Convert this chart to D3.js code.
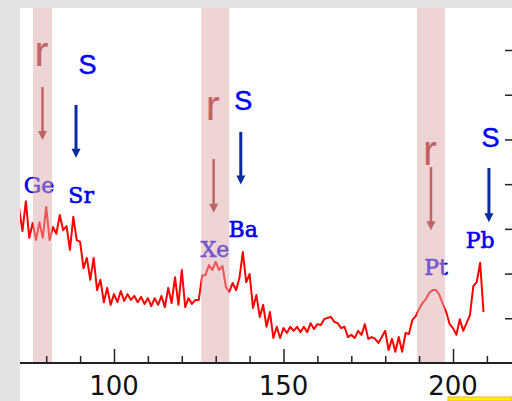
<!DOCTYPE html>
<html>
<head>
<meta charset="utf-8">
<script src="https://cdn.jsdelivr.net/npm/d3@7"></script>
<style>
  body { margin: 0; background: #e3e3e3; }
</style>
</head>
<body>
<div id="chart"></div>
<script>
// Frame for the chart
var svgWidth = 512;
var svgHeight = 401;

var plotLeft = 20;
var plotTop = 8;
var axisY = 363;

// Mass number range of the red abundance curve
var massStart = 72;
var abundance = [
  3.47, 2.95, 3.62, 2.80, 3.13, 2.75, 3.15, 2.80, 3.49, 2.75,
  3.04, 2.89, 3.31, 2.97, 3.06, 2.53, 3.27, 2.75, 2.71, 2.12,
  2.35, 1.86, 2.35, 1.63, 1.86, 1.36, 1.68, 1.30, 1.54, 1.36,
  1.61, 1.39, 1.54, 1.41, 1.50, 1.36, 1.48, 1.32, 1.45, 1.27,
  1.45, 1.30, 1.50, 1.25, 1.68, 1.34, 1.92, 1.30, 2.08, 1.25,
  1.45, 1.32, 1.41, 1.41, 1.95, 1.97, 2.19, 2.08, 2.26, 2.08,
  2.17, 1.70, 1.59, 1.79, 1.63, 1.90, 2.48, 1.81, 1.99, 1.23,
  1.52, 1.03, 1.30, 0.81, 1.14, 0.56, 0.81, 0.56, 0.78, 0.67,
  0.81, 0.72, 0.81, 0.69, 0.81, 0.69, 0.89, 0.76, 0.87, 0.85,
  0.98, 1.01, 1.03, 0.92, 0.89, 0.78, 0.81, 0.58, 0.63, 0.56,
  0.72, 0.63, 0.87, 0.54, 0.58, 0.54, 0.45, 0.58, 0.72, 0.29,
  0.54, 0.25, 0.58, 0.25, 0.67, 0.65, 0.96, 1.05, 1.21, 1.34,
  1.43, 1.57, 1.63, 1.63, 1.52, 1.32, 1.14, 0.87, 0.78, 0.63,
  0.98, 0.72, 0.89, 1.07, 1.72, 1.81, 2.24, 1.14
];

// r-process peaks (shaded bands), in mass number
var bandStart = [76.1, 125.7, 189.4];
var bandEnd = [81.7, 134.0, 197.6];

// element labels
var elementNames = ["Ge", "Sr", "Xe", "Ba", "Pt", "Pb"];
var elementMass = [77.9, 90.3, 129.8, 138.1, 195.0, 208.0];
var elementLevel = [3.80, 3.57, 2.37, 2.81, 1.97, 2.57];

// r and s arrows: mass, top of arrow, tip of arrow, label level
var rMass = [78.9, 129.4, 193.5];
var rTop = [6.17, 4.56, 4.38];
var rTip = [4.99, 3.36, 2.97];
var rLabel = [6.64, 5.43, 4.43];

var sMass = [88.8, 137.4, 210.6];
var sTop = [5.77, 5.17, 4.36];
var sTip = [4.59, 3.99, 3.15];
var sLabelMass = [92.2, 138.1, 211.1];
var sLabel = [6.46, 5.66, 4.84];

var xTicks = d3.range(80, 211, 10);
var xLabels = [100, 150, 200];
var yTicks = [1, 2, 3, 4, 5, 6, 7];

var series = abundance.map((v, i) => ({mass: massStart + i, value: v}));

var svg = d3.select("#chart").append("svg")
    .attr("width", svgWidth)
    .attr("height", svgHeight);

// white plot panel
svg.append("rect")
    .attr("x", plotLeft).attr("y", plotTop)
    .attr("width", svgWidth - plotLeft).attr("height", svgHeight - plotTop)
    .attr("fill", "#fff");

// small yellow strip at the bottom right
svg.append("rect")
    .attr("x", 448).attr("y", 397)
    .attr("width", 64).attr("height", 4)
    .attr("fill", "#fff200").attr("stroke", "#f0b030").attr("stroke-width", 1);

var xScale = d3.scaleLinear().domain([100, 200]).range([114, 453]);
var yScale = d3.scaleLinear().domain([0, 7]).range([axisY, 50]);

svg.append("clipPath").attr("id", "panel")
    .append("rect")
    .attr("x", plotLeft).attr("y", plotTop)
    .attr("width", svgWidth - plotLeft).attr("height", svgHeight - plotTop);

var line = d3.line()
    .x(d => xScale(d.mass))
    .y(d => yScale(d.value));

svg.append("path")
    .datum(series)
    .attr("clip-path", "url(#panel)")
    .attr("d", line)
    .attr("fill", "none")
    .attr("stroke", "#ff0000")
    .attr("stroke-width", 2)
    .attr("stroke-linejoin", "round");

// element labels
svg.selectAll(".elem")
    .data(elementNames)
    .enter().append("text")
    .attr("x", (d, i) => xScale(elementMass[i]))
    .attr("y", (d, i) => yScale(elementLevel[i]))
    .attr("text-anchor", "middle")
    .attr("font-family", "DejaVu Serif")
    .attr("font-size", 22)
    .attr("fill", "#0000f0")
    .attr("stroke", "#0000f0")
    .attr("stroke-width", 0.6)
    .text(d => d);

// r-process bands, semi transparent over the curve
svg.selectAll(".band")
    .data(bandStart)
    .enter().append("rect")
    .attr("x", d => xScale(d))
    .attr("y", plotTop)
    .attr("width", (d, i) => xScale(bandEnd[i]) - xScale(d))
    .attr("height", axisY - plotTop)
    .attr("fill", "#dfa9ab")
    .attr("opacity", 0.5);

// arrow helper
function arrow(x, y1, y2, color, w) {
    svg.append("line")
        .attr("x1", x).attr("x2", x)
        .attr("y1", y1).attr("y2", y2 - 6)
        .attr("stroke", color).attr("stroke-width", w);
    svg.append("path")
        .attr("d", `M${x - 4.5},${y2 - 9} L${x + 4.5},${y2 - 9} L${x},${y2} Z`)
        .attr("fill", color);
}

rMass.forEach((m, i) => {
    arrow(xScale(m), yScale(rTop[i]), yScale(rTip[i]), "#c26262", 2.5);
    svg.append("text")
        .attr("x", xScale(m) - 1).attr("y", yScale(rLabel[i]))
        .attr("text-anchor", "middle")
        .attr("font-family", "Liberation Sans")
        .attr("font-size", 42)
        .attr("fill", "#c26262")
        .text("r");
});

sMass.forEach((m, i) => {
    arrow(xScale(m), yScale(sTop[i]), yScale(sTip[i]), "#0a2a9e", 3);
    svg.append("text")
        .attr("x", xScale(sLabelMass[i])).attr("y", yScale(sLabel[i]))
        .attr("text-anchor", "middle")
        .attr("font-family", "Liberation Sans")
        .attr("font-size", 27)
        .attr("fill", "#0000ff")
        .attr("stroke", "#0000ff")
        .attr("stroke-width", 0.5)
        .text("S");
});

// bottom axis
var bottomAxis = d3.axisTop(xScale)
    .tickValues(xTicks)
    .tickSize(7)
    .tickFormat("");

var xAxis = svg.append("g")
    .attr("transform", `translate(0, ${axisY})`)
    .call(bottomAxis);
xAxis.select(".domain").remove();
xAxis.selectAll("line")
    .attr("stroke", "#222")
    .attr("stroke-width", 1.5)
    .attr("y2", d => xLabels.includes(d) ? -14 : -7);

svg.append("line")
    .attr("x1", plotLeft).attr("x2", svgWidth)
    .attr("y1", axisY).attr("y2", axisY)
    .attr("stroke", "#222").attr("stroke-width", 2);

svg.selectAll(".xlab")
    .data(xLabels)
    .enter().append("text")
    .attr("x", d => xScale(d))
    .attr("y", 394.5)
    .attr("text-anchor", "middle")
    .attr("font-family", "DejaVu Sans")
    .attr("font-size", 26)
    .attr("fill", "#111")
    .text(d => d);

// right hand ticks
var rightAxis = d3.axisLeft(yScale)
    .tickValues(yTicks)
    .tickSize(7)
    .tickFormat("");

var yAxis = svg.append("g")
    .attr("transform", `translate(${svgWidth}, 0)`)
    .call(rightAxis);
yAxis.select(".domain").remove();
yAxis.selectAll("line").attr("stroke", "#222").attr("stroke-width", 1.5);
</script>
</body>
</html>
